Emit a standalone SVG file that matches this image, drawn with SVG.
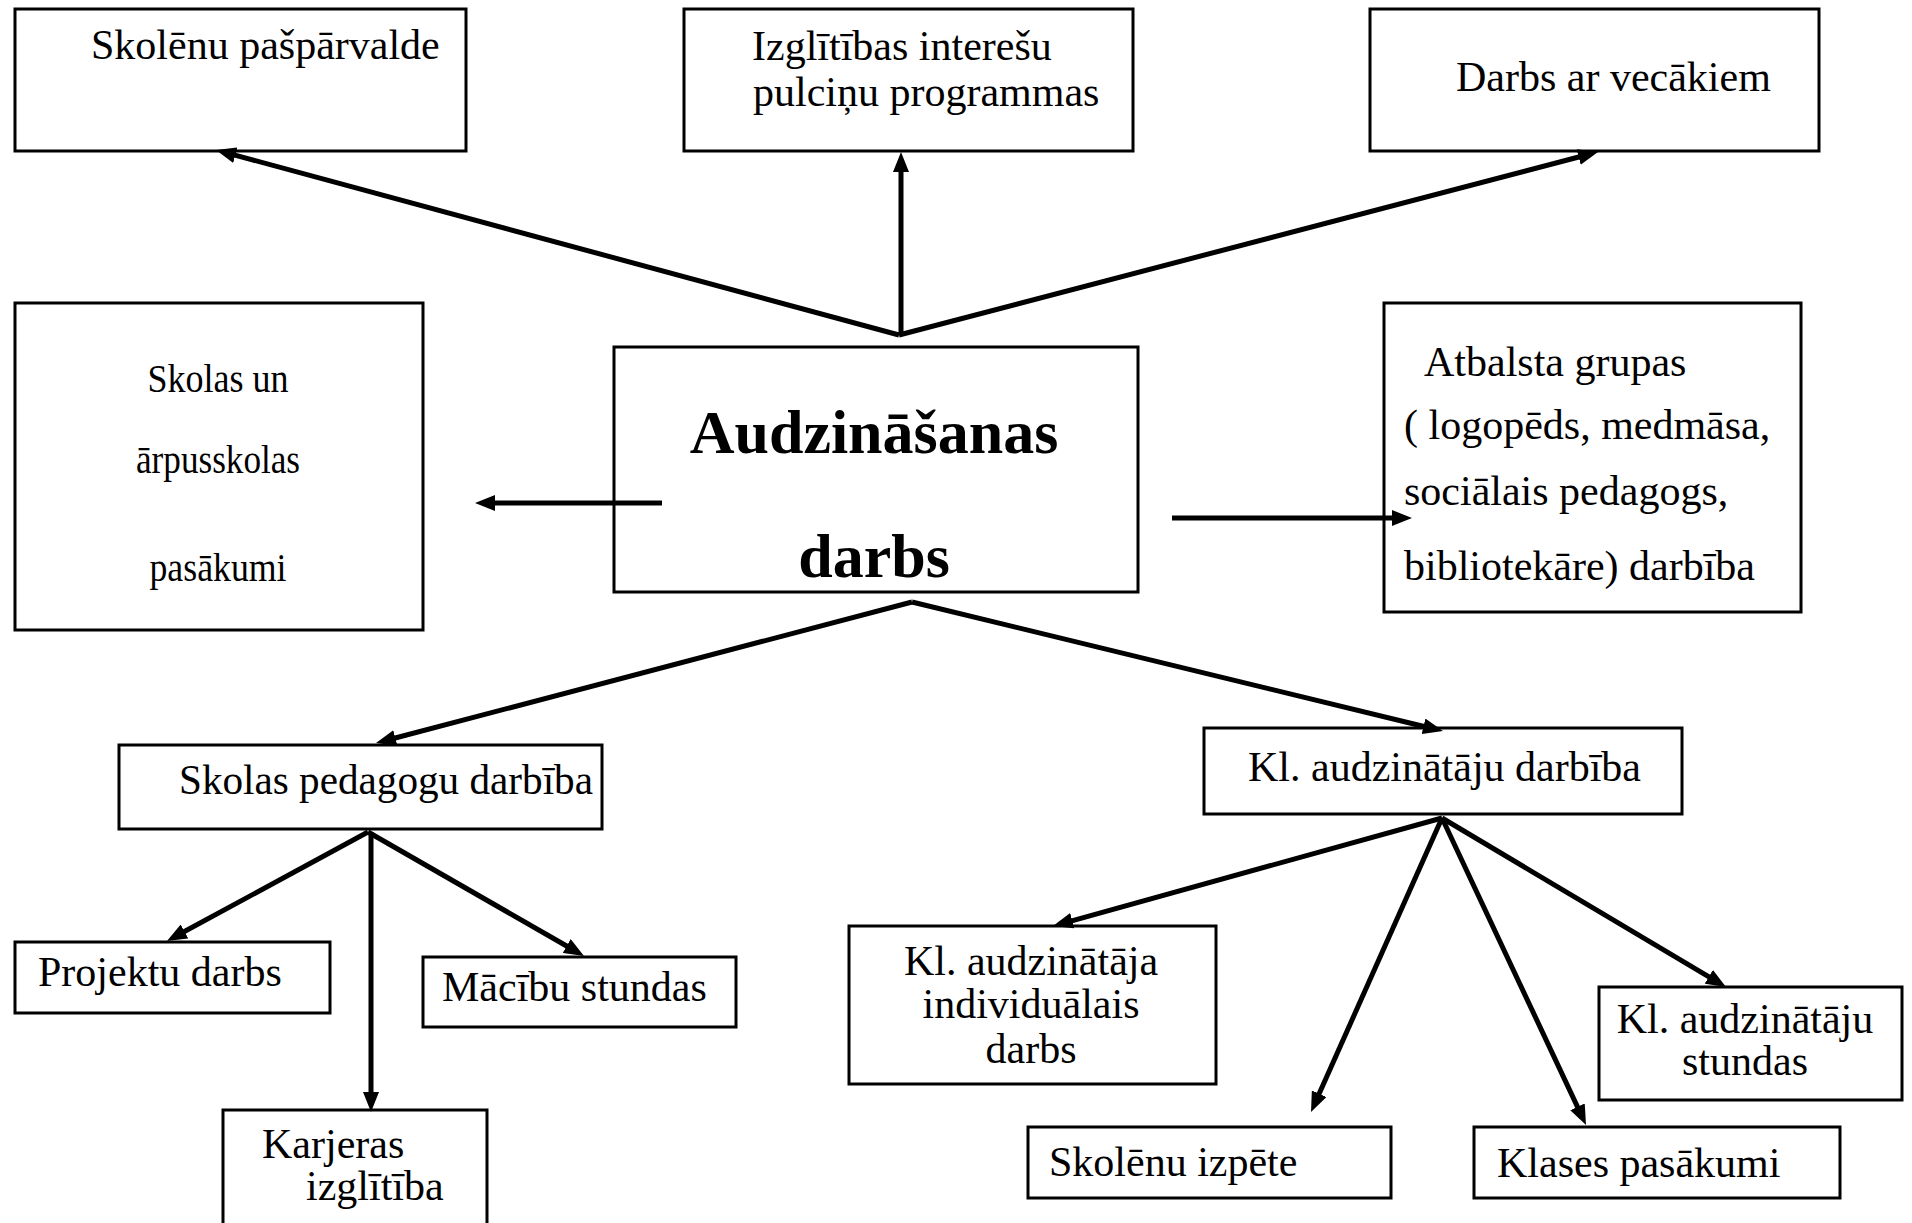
<svg xmlns="http://www.w3.org/2000/svg" width="1912" height="1223" viewBox="0 0 1912 1223">
<style>
.box{fill:#fff;stroke:#000;stroke-width:3}
.t{font-family:"Liberation Serif","Times New Roman",serif;font-size:42px;fill:#000}
.c{text-anchor:middle}
.b{font-weight:bold;font-size:62px}
.n{font-size:40px}
.ln{stroke:#000;stroke-width:5;fill:none;marker-end:url(#ah)}
</style>
<defs>
<marker id="ah" markerUnits="userSpaceOnUse" markerWidth="20" markerHeight="16" viewBox="0 0 20 16" refX="8" refY="8" orient="auto">
<path d="M0,0 L20,8 L0,16 z" fill="#000"/>
</marker>
</defs>
<rect width="1912" height="1223" fill="#fff"/>

<g id="n-skolenu-pasparvalde">
<rect class="box" x="15" y="9" width="451" height="142"/>
<text class="t" x="91" y="59">Skolēnu pašpārvalde</text>
</g>
<g id="n-izglitibas">
<rect class="box" x="684" y="9" width="449" height="142"/>
<text class="t" x="752" y="60">Izglītības interešu</text>
<text class="t" x="753" y="106">pulciņu programmas</text>
</g>
<g id="n-vecaki">
<rect class="box" x="1370" y="9" width="449" height="142"/>
<text class="t" x="1456" y="91">Darbs ar vecākiem</text>
</g>
<g id="n-pasakumi">
<rect class="box" x="15" y="303" width="408" height="327"/>
<text class="t n c" x="218" y="392" textLength="141" lengthAdjust="spacingAndGlyphs">Skolas un</text>
<text class="t n c" x="218" y="473" textLength="164" lengthAdjust="spacingAndGlyphs">ārpusskolas</text>
<text class="t n c" x="218" y="581" textLength="137" lengthAdjust="spacingAndGlyphs">pasākumi</text>
</g>
<g id="n-audzinasanas">
<rect class="box" x="614" y="347" width="524" height="245"/>
<text class="t b c" x="874" y="453">Audzināšanas</text>
<text class="t b c" x="874" y="577">darbs</text>
</g>
<g id="n-atbalsta">
<rect class="box" x="1384" y="303" width="417" height="309"/>
<text class="t" x="1424" y="376">Atbalsta grupas</text>
<text class="t" x="1404" y="439">( logopēds, medmāsa,</text>
<text class="t" x="1404" y="505">sociālais pedagogs,</text>
<text class="t" x="1404" y="580">bibliotekāre) darbība</text>
</g>
<g id="n-pedagogi">
<rect class="box" x="119" y="745" width="483" height="84"/>
<text class="t" x="179" y="794" textLength="414" lengthAdjust="spacingAndGlyphs">Skolas pedagogu darbība</text>
</g>
<g id="n-klaudz">
<rect class="box" x="1204" y="728" width="478" height="86"/>
<text class="t" x="1248" y="781">Kl. audzinātāju darbība</text>
</g>
<g id="n-projektu">
<rect class="box" x="15" y="942" width="315" height="71"/>
<text class="t" x="38" y="986">Projektu darbs</text>
</g>
<g id="n-macibu">
<rect class="box" x="423" y="957" width="313" height="70"/>
<text class="t" x="442" y="1001">Mācību stundas</text>
</g>
<g id="n-karjeras">
<rect class="box" x="223" y="1110" width="264" height="140"/>
<text class="t" x="262" y="1158">Karjeras</text>
<text class="t" x="306" y="1200">izglītība</text>
</g>
<g id="n-individualais">
<rect class="box" x="849" y="926" width="367" height="158"/>
<text class="t c" x="1031" y="975">Kl. audzinātāja</text>
<text class="t c" x="1031" y="1018">individuālais</text>
<text class="t c" x="1031" y="1063">darbs</text>
</g>
<g id="n-izpete">
<rect class="box" x="1028" y="1127" width="363" height="71"/>
<text class="t" x="1049" y="1176">Skolēnu izpēte</text>
</g>
<g id="n-klases">
<rect class="box" x="1474" y="1127" width="366" height="71"/>
<text class="t" x="1497" y="1177">Klases pasākumi</text>
</g>
<g id="n-stundas">
<rect class="box" x="1599" y="987" width="303" height="113"/>
<text class="t c" x="1745" y="1033">Kl. audzinātāju</text>
<text class="t c" x="1745" y="1075">stundas</text>
</g>

<g id="connectors">
<line class="ln" x1="899" y1="335" x2="227.6" y2="153.1"/>
<line class="ln" x1="901" y1="335" x2="901" y2="164"/>
<line class="ln" x1="899" y1="335" x2="1586.4" y2="155"/>
<line class="ln" x1="662" y1="503" x2="487" y2="503"/>
<line class="ln" x1="1172" y1="518" x2="1400" y2="518"/>
<line class="ln" x1="912" y1="602" x2="387.6" y2="740"/>
<line class="ln" x1="912" y1="602" x2="1431.3" y2="728.2"/>
<line class="ln" x1="368" y1="832" x2="177.5" y2="935.3"/>
<line class="ln" x1="371" y1="832" x2="371" y2="1100"/>
<line class="ln" x1="368" y1="832" x2="573.6" y2="950"/>
<line class="ln" x1="1442" y1="818" x2="1064.6" y2="922.8"/>
<line class="ln" x1="1442" y1="818" x2="1315.9" y2="1101"/>
<line class="ln" x1="1442" y1="818" x2="1580.9" y2="1114.1"/>
<line class="ln" x1="1442" y1="818" x2="1715.7" y2="980.9"/>
</g>
</svg>
